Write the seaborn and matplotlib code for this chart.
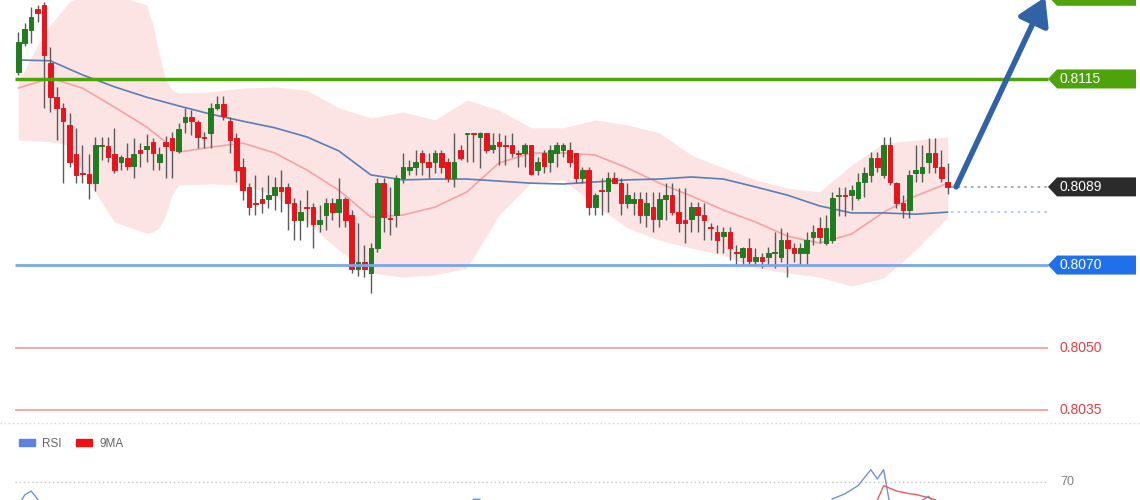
import numpy as np
import pandas as pd
import matplotlib
matplotlib.use('Agg')
import matplotlib.pyplot as plt
from matplotlib.patches import Polygon, Patch
from matplotlib.lines import Line2D
from matplotlib.transforms import blended_transform_factory
import seaborn as sns

# candles (price) left to right
opens = [0.81167, 0.81237, 0.81269, 0.81319, 0.81329, 0.81189, 0.81106, 0.81080, 0.81039, 0.80968,
         0.80923, 0.80920, 0.80899, 0.80988, 0.80988, 0.80968, 0.80949, 0.80959, 0.80940, 0.80978,
         0.80980, 0.80998, 0.80949, 0.80998, 0.81007, 0.80976, 0.81046, 0.81058, 0.81046, 0.81010,
         0.81020, 0.81080, 0.81090, 0.81049, 0.81007, 0.80937, 0.80889, 0.80850, 0.80859, 0.80859,
         0.80869, 0.80889, 0.80889, 0.80850, 0.80809, 0.80840, 0.80840, 0.80799, 0.80821, 0.80850,
         0.80828, 0.80859, 0.80821, 0.80690, 0.80707, 0.80681, 0.80741, 0.80899, 0.80814, 0.80821,
         0.80911, 0.80930, 0.80937, 0.80971, 0.80949, 0.80949, 0.80971, 0.80949, 0.80911, 0.80978,
         0.81017, 0.81020, 0.81010, 0.81020, 0.80980, 0.80998, 0.80990, 0.80990, 0.80971, 0.80971,
         0.80990, 0.80930, 0.80971, 0.80949, 0.80971, 0.80978, 0.80978, 0.80971, 0.80911, 0.80930,
         0.80840, 0.80881, 0.80879, 0.80911, 0.80899, 0.80850, 0.80850, 0.80859, 0.80821, 0.80840,
         0.80811, 0.80859, 0.80869, 0.80828, 0.80809, 0.80811, 0.80840, 0.80821, 0.80792, 0.80780,
         0.80770, 0.80780, 0.80731, 0.80719, 0.80741, 0.80710, 0.80719, 0.80719, 0.80729, 0.80719,
         0.80760, 0.80741, 0.80729, 0.80729, 0.80768, 0.80790, 0.80753, 0.80760, 0.80867, 0.80869,
         0.80869, 0.80862, 0.80901, 0.80918, 0.80959, 0.80918, 0.80990, 0.80899, 0.80850, 0.80833,
         0.80923, 0.80923, 0.80949, 0.80971, 0.80937, 0.80901]
highs = [0.81264, 0.81286, 0.81324, 0.81329, 0.81336, 0.81227, 0.81131, 0.81092, 0.81068, 0.81032,
         0.80990, 0.80968, 0.81010, 0.81010, 0.81010, 0.81032, 0.80966, 0.80995, 0.81007, 0.80995,
         0.81017, 0.81007, 0.80985, 0.81012, 0.81022, 0.81044, 0.81080, 0.81075, 0.81051, 0.81022,
         0.81092, 0.81109, 0.81109, 0.81058, 0.81020, 0.80959, 0.80899, 0.80918, 0.80889, 0.80918,
         0.80913, 0.80930, 0.80899, 0.80862, 0.80857, 0.80881, 0.80850, 0.80845, 0.80862, 0.80862,
         0.80911, 0.80864, 0.80833, 0.80802, 0.80748, 0.80753, 0.80911, 0.80911, 0.80889, 0.80918,
         0.80971, 0.80954, 0.80978, 0.80978, 0.80971, 0.80978, 0.80978, 0.80959, 0.81020, 0.80990,
         0.81020, 0.81020, 0.81022, 0.81020, 0.81020, 0.81020, 0.81015, 0.81020, 0.80978, 0.80995,
         0.80990, 0.80961, 0.80978, 0.80990, 0.80998, 0.80995, 0.80998, 0.80971, 0.80937, 0.80937,
         0.80874, 0.80911, 0.80925, 0.80925, 0.80911, 0.80899, 0.80876, 0.80876, 0.80876, 0.80876,
         0.80876, 0.80899, 0.80899, 0.80886, 0.80886, 0.80852, 0.80852, 0.80850, 0.80802, 0.80797,
         0.80792, 0.80792, 0.80748, 0.80743, 0.80765, 0.80741, 0.80729, 0.80743, 0.80780, 0.80790,
         0.80780, 0.80753, 0.80753, 0.80780, 0.80797, 0.80816, 0.80821, 0.80876, 0.80889, 0.80889,
         0.80894, 0.80923, 0.80937, 0.80973, 0.80973, 0.81010, 0.81010, 0.80901, 0.80869, 0.80930,
         0.80990, 0.80990, 0.81007, 0.81007, 0.80978, 0.80947]
lows = [0.81160, 0.81229, 0.81237, 0.81288, 0.81080, 0.81070, 0.81002, 0.80899, 0.80937, 0.80899,
        0.80899, 0.80859, 0.80879, 0.80954, 0.80949, 0.80923, 0.80930, 0.80930, 0.80911, 0.80937,
        0.80949, 0.80930, 0.80930, 0.80911, 0.80911, 0.80971, 0.81020, 0.81015, 0.80983, 0.80983,
        0.80983, 0.81075, 0.81051, 0.80971, 0.80901, 0.80857, 0.80821, 0.80821, 0.80826, 0.80838,
        0.80833, 0.80828, 0.80785, 0.80760, 0.80760, 0.80792, 0.80741, 0.80780, 0.80785, 0.80809,
        0.80792, 0.80792, 0.80681, 0.80673, 0.80671, 0.80632, 0.80731, 0.80780, 0.80773, 0.80792,
        0.80899, 0.80918, 0.80918, 0.80918, 0.80911, 0.80923, 0.80923, 0.80901, 0.80889, 0.80954,
        0.80949, 0.80949, 0.80935, 0.80971, 0.80971, 0.80942, 0.80942, 0.80961, 0.80937, 0.80937,
        0.80918, 0.80918, 0.80923, 0.80925, 0.80937, 0.80961, 0.80937, 0.80899, 0.80899, 0.80821,
        0.80821, 0.80821, 0.80828, 0.80899, 0.80821, 0.80838, 0.80821, 0.80802, 0.80792, 0.80780,
        0.80792, 0.80809, 0.80821, 0.80780, 0.80753, 0.80780, 0.80780, 0.80760, 0.80760, 0.80729,
        0.80729, 0.80712, 0.80700, 0.80702, 0.80700, 0.80700, 0.80693, 0.80700, 0.80693, 0.80707,
        0.80671, 0.80707, 0.80700, 0.80700, 0.80748, 0.80753, 0.80748, 0.80753, 0.80819, 0.80819,
        0.80833, 0.80857, 0.80864, 0.80901, 0.80925, 0.80911, 0.80894, 0.80838, 0.80814, 0.80814,
        0.80901, 0.80901, 0.80923, 0.80923, 0.80901, 0.80872]
closes = [0.81239, 0.81271, 0.81300, 0.81310, 0.81208, 0.81106, 0.81080, 0.81049, 0.80949, 0.80918,
          0.80920, 0.80899, 0.80990, 0.80990, 0.80961, 0.80930, 0.80961, 0.80940, 0.80968, 0.80971,
          0.80988, 0.80971, 0.80968, 0.80988, 0.80978, 0.81029, 0.81058, 0.81049, 0.81010, 0.81007,
          0.81080, 0.81090, 0.81061, 0.81002, 0.80930, 0.80881, 0.80840, 0.80848, 0.80850, 0.80869,
          0.80889, 0.80879, 0.80850, 0.80809, 0.80828, 0.80838, 0.80799, 0.80809, 0.80850, 0.80828,
          0.80859, 0.80809, 0.80690, 0.80707, 0.80690, 0.80741, 0.80899, 0.80816, 0.80811, 0.80911,
          0.80937, 0.80937, 0.80949, 0.80949, 0.80937, 0.80971, 0.80937, 0.80911, 0.80949, 0.80959,
          0.81020, 0.81017, 0.81020, 0.80978, 0.80990, 0.80988, 0.80988, 0.80971, 0.80968, 0.80990,
          0.80920, 0.80949, 0.80940, 0.80978, 0.80990, 0.80990, 0.80949, 0.80911, 0.80930, 0.80840,
          0.80869, 0.80879, 0.80911, 0.80899, 0.80850, 0.80869, 0.80859, 0.80821, 0.80850, 0.80811,
          0.80859, 0.80869, 0.80828, 0.80802, 0.80802, 0.80840, 0.80821, 0.80809, 0.80790, 0.80760,
          0.80780, 0.80741, 0.80729, 0.80741, 0.80710, 0.80719, 0.80710, 0.80729, 0.80731, 0.80760,
          0.80741, 0.80729, 0.80741, 0.80760, 0.80780, 0.80768, 0.80790, 0.80862, 0.80869, 0.80867,
          0.80881, 0.80901, 0.80923, 0.80959, 0.80937, 0.80990, 0.80901, 0.80850, 0.80833, 0.80918,
          0.80930, 0.80937, 0.80971, 0.80937, 0.80911, 0.80889]

# moving averages, sampled every 5th candle
line_idx = list(range(0, 146, 5))
ma_slow = [0.81196, 0.81194, 0.81160, 0.81131, 0.81106, 0.81085, 0.81065, 0.81048, 0.81032, 0.81010,
           0.80976, 0.80918, 0.80906, 0.80908, 0.80908, 0.80903, 0.80898, 0.80896, 0.80901, 0.80906,
           0.80908, 0.80913, 0.80908, 0.80889, 0.80869, 0.80843, 0.80826, 0.80826, 0.80823, 0.80828]
ma_fast = [0.81128, 0.81152, 0.81128, 0.81082, 0.81034, 0.80973, 0.80985, 0.80995, 0.80971, 0.80930,
           0.80881, 0.80816, 0.80821, 0.80840, 0.80877, 0.80947, 0.80971, 0.80971, 0.80966, 0.80935,
           0.80898, 0.80867, 0.80833, 0.80804, 0.80770, 0.80753, 0.80775, 0.80828, 0.80867, 0.80898]

# bollinger band edges
band_idx = [0, 3, 5, 8, 10, 15, 20, 21, 22, 23, 24, 25] + list(range(30, 146, 5))
band_upper = [0.81141, 0.81232, 0.81281, 0.81336, 0.81353, 0.81353, 0.81329, 0.81281, 0.81208, 0.81148,
              0.81123, 0.81116,
              0.81119, 0.81128, 0.81131, 0.81123, 0.81080, 0.81056, 0.81070, 0.81051, 0.81099, 0.81075,
              0.81032, 0.81032, 0.81051, 0.81039, 0.81020, 0.80966, 0.80935, 0.80906, 0.80886, 0.80877,
              0.80942, 0.80995, 0.81002, 0.81010]
band_lower = [0.81002, 0.81000, 0.80998, 0.80990, 0.80925, 0.80804, 0.80777, 0.80780, 0.80790, 0.80821,
              0.80869, 0.80894,
              0.80896, 0.80894, 0.80869, 0.80804, 0.80736, 0.80681, 0.80671, 0.80676, 0.80693, 0.80821,
              0.80899, 0.80906, 0.80845, 0.80790, 0.80760, 0.80741, 0.80724, 0.80693, 0.80681, 0.80671,
              0.80649, 0.80669, 0.80736, 0.80816]

# horizontal levels
level_values = [0.8135, 0.8115, 0.8070, 0.8050, 0.8035]
level_labels = ['0.8135', '0.8115', '0.8070', '0.8050', '0.8035']
last_price = 0.80889
last_label = '0.8089'

# RSI panel (only the part above ~63 is visible)
rsi_idx = [0, 1, 2, 3, 4, 70, 71, 72, 73, 126, 127, 128, 129, 130, 131, 132, 133, 134, 135, 136, 137,
           140, 141, 142, 143, 144, 145]
rsi_vals = [61, 65, 66.5, 63.5, 57, 58, 63.4, 63.4, 58, 58, 63.5, 64.5, 65.5, 67, 68.5, 71.5, 74.5, 71,
            74.5, 61, 55, 58, 63, 64.5, 62, 58, 56]
ma9_idx = [131, 132, 133, 134, 135, 136, 137, 138, 139, 140, 141, 142, 143, 144, 145]
ma9_vals = [55, 57, 59, 63, 68.5, 67.5, 66.5, 66, 65.5, 65.2, 64.6, 64, 63.2, 62, 61]

sns.set_theme(style='white')
plt.rcParams['font.family'] = ['Liberation Sans', 'DejaVu Sans']

W, H = 1140, 500
fig = plt.figure(figsize=(11.4, 5.0), dpi=100)
ax = fig.add_axes([0, 77 / H, 1, 423 / H])
rax = fig.add_axes([0, -115 / H, 1, 160 / H])
xlim = (-18.3 / 6.41, (W - 18.3) / 6.41)
line_end = (1048 - 18.3) / 6.41

df = pd.DataFrame({'open': opens, 'high': highs, 'low': lows, 'close': closes})
df['i'] = np.arange(len(df))
up = df.close >= df.open
colors = np.where(up, '#1f7d1f', '#e8141c')

# bollinger band + moving averages
ax.fill_between(band_idx, band_lower, band_upper, color='#fde4e4', lw=0, zorder=1)
sns.lineplot(x=line_idx, y=ma_fast, ax=ax, color='#f2a3a3', lw=1.2, zorder=2)
sns.lineplot(x=line_idx, y=ma_slow, ax=ax, color='#5a7db3', lw=1.2, zorder=2)

# candles
ax.vlines(df.i, df.low, df.high, color='#5a5a5a', lw=1, zorder=3)
ax.bar(df.i, (df.close - df.open).abs(), bottom=df[['open', 'close']].min(axis=1),
       width=0.72, color=colors, edgecolor=colors, lw=0.7, zorder=4)

# levels
lvl_colors = ['#4ca30a', '#4ca30a', '#7aa6f0', '#f4a3a3', '#f4a3a3']
lvl_lw = [2.5, 2.5, 2, 1.3, 1.3]
for v, c, lw in zip(level_values, lvl_colors, lvl_lw):
    ax.hlines(v, -0.5, line_end, color=c, lw=lw, zorder=5)
ax.hlines(last_price, df.i.iloc[-1] + 0.5, line_end, color='#9a9a9a', lw=1.2,
          linestyles=(0, (1.5, 2.5)), zorder=5)
ax.hlines(ma_slow[-1], df.i.iloc[-1] + 0.5, line_end, color='#a9c1ea', lw=1.2,
          linestyles=(0, (1.5, 2.5)), zorder=5)

trans = blended_transform_factory(fig.transFigure, ax.transData)
half = 9.5 / 41330


def tag(price, text, color):
    x0, x1, x2 = 1048 / W, 1057 / W, 1136 / W
    poly = Polygon([(x0, price), (x1, price + half), (x2, price + half),
                    (x2, price - half), (x1, price - half)], closed=True,
                   transform=trans, fc=color, ec='none', clip_on=False, zorder=6)
    ax.add_patch(poly)
    ax.text(1060 / W, price, text, transform=trans, color='white', fontsize=10,
            va='center', ha='left', zorder=7, clip_on=False)


tag(level_values[0], level_labels[0], '#4ca30a')
tag(level_values[1], level_labels[1], '#4ca30a')
tag(level_values[2], level_labels[2], '#1f70ea')
tag(last_price, last_label, '#2b2b2b')
for v, t in zip(level_values[3:], level_labels[3:]):
    ax.text(1060 / W, v, t, transform=trans, color='#f03c3c', fontsize=10,
            va='center', ha='left')

# forecast arrow
ax.annotate('', xy=(160.2, 0.81348), xytext=(146.3, last_price),
            arrowprops=dict(arrowstyle='-|>,head_length=0.9,head_width=0.55', lw=4,
                            color='#2f63a6', mutation_scale=18, shrinkA=0, shrinkB=0),
            annotation_clip=False, zorder=8)

ax.set_xlim(*xlim)
ax.set_ylim(0.80318, 0.81341)
ax.axis('off')

# separator
fig.add_artist(Line2D([0, 1], [77 / H, 77 / H], transform=fig.transFigure,
                      color='#d5d5d5', lw=1, ls=(0, (1, 2))))

# RSI panel
rax.hlines(70, -0.5, line_end, color='#c4c4c4', lw=1, linestyles=(0, (1, 2)))
sns.lineplot(x=rsi_idx, y=rsi_vals, ax=rax, color='#7090e0', lw=1)
sns.lineplot(x=ma9_idx, y=ma9_vals, ax=rax, color='#f05a5a', lw=1)
rax.text(1060 / W, 70, '70', transform=blended_transform_factory(fig.transFigure, rax.transData),
         color='#808080', fontsize=9, va='center', ha='left')
rax.set_xlim(*xlim)
rax.set_ylim(20, 80)
rax.axis('off')

handles = [Patch(color='#5b82e0', label='RSI'), Patch(color='#ee1111', label='9MA')]
fig.legend(handles=handles, loc='upper left', bbox_to_anchor=(8 / W, 1 - 427 / H), ncol=2,
           frameon=False, fontsize=8.5, handlelength=1.35, handleheight=0.45,
           handletextpad=0.6, columnspacing=1.3, labelcolor='#666666')

fig.savefig('out.png', dpi=100)
